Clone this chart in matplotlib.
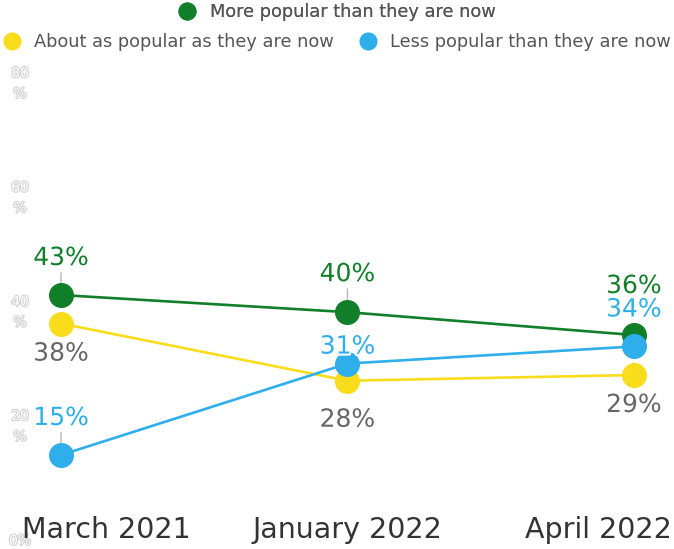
import matplotlib.pyplot as plt
import matplotlib.patheffects as pe
from matplotlib.lines import Line2D

periods = ['March 2021', 'January 2022', 'April 2022']
series_names = ['More popular than they are now',
                'About as popular as they are now',
                'Less popular than they are now']
more_popular = [43, 40, 36]
about_as_popular = [38, 28, 29]
less_popular = [15, 31, 34]
y_ticks = [0, 20, 40, 60, 80]
y_tick_labels = ['0%', '20\n%', '40\n%', '60\n%', '80\n%']

colors = ['#117f29', '#f9dc1c', '#2eaeea']
label_colors = ['#117f29', '#666666', '#2eaeea']
# label offsets in pixels (positive = above marker) and leader-line flags
label_offsets = [[37, 38, 49], [-30, -39, -30], [37, 17, 37]]
leaders = [[True, True, False], [False, False, False], [True, False, False]]

fig = plt.figure(figsize=(6.74, 5.49), dpi=100)
ax = fig.add_axes([0, 0.0151, 1, 0.8326])
ax.set_xlim(-0.213, 2.140)
ax.set_ylim(0, 80)
ax.axis('off')

xs = list(range(len(periods)))
all_series = [more_popular, about_as_popular, less_popular]
halo = [pe.withStroke(linewidth=3, foreground='white')]

# y labels, nearly invisible on the left
for t, lab in zip(y_ticks, y_tick_labels):
    ax.text(20 / 674, t, lab, transform=ax.get_yaxis_transform(), ha='center', va='center',
            fontsize=10, color='white', linespacing=1.6,
            path_effects=[pe.withStroke(linewidth=1.5, foreground='#cfcfcf')], zorder=1)

for i, vals in enumerate(all_series):
    ax.plot(xs, vals, color=colors[i], lw=1.9, marker='o', markersize=17, zorder=3 + i)
    for j, v in enumerate(vals):
        off = label_offsets[i][j] * 0.72
        arrow = None
        if leaders[i][j]:
            arrow = dict(arrowstyle='-', color='#b5b5b5', lw=1, shrinkA=0, shrinkB=9)
        ax.annotate(f'{v}%', xy=(j, v), xytext=(0, off), textcoords='offset points',
                    ha='center', va='center', fontsize=18, color=label_colors[i],
                    path_effects=halo, arrowprops=arrow, zorder=10)

# x category labels, kept inside the figure
xpos = [22 / 674, 0.5, 672 / 674]
has = ['left', 'center', 'right']
for j, p in enumerate(periods):
    if j == 1:
        ax.text(j, 0.023, p, transform=ax.get_xaxis_transform(), ha='center', va='center',
                fontsize=20.5, color='#333333', zorder=10)
    else:
        ax.text(xpos[j], 0.023, p, transform=ax.transAxes, ha=has[j], va='center',
                fontsize=20.5, color='#333333', zorder=10)

handles = [Line2D([], [], marker='o', linestyle='none', markersize=12, color=c) for c in colors]
leg1 = fig.legend(handles=handles[:1], labels=series_names[:1], loc='center',
                  bbox_to_anchor=(0.5, 1 - 12 / 549), frameon=False, fontsize=12.8,
                  handlelength=1, handletextpad=0.75, borderpad=0, labelcolor='#555555')
fig.legend(handles=handles[1:], labels=series_names[1:], loc='center', ncol=2,
           bbox_to_anchor=(0.5, 1 - 42 / 549), frameon=False, fontsize=12.8,
           handlelength=1, handletextpad=0.75, borderpad=0, columnspacing=1.4,
           labelcolor='#555555')
fig.add_artist(leg1)

fig.savefig('out.png', dpi=100)
